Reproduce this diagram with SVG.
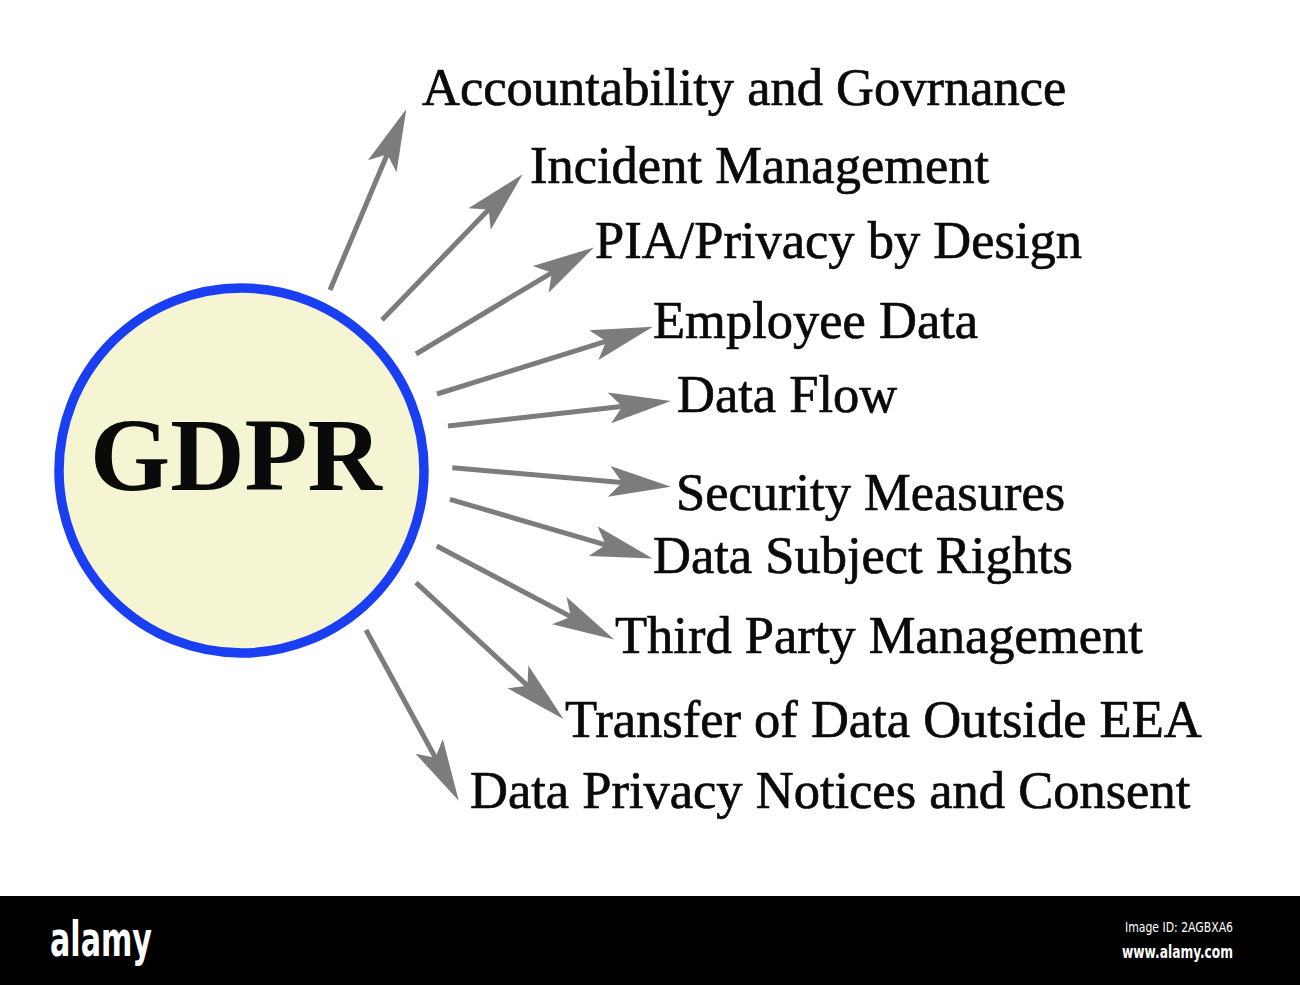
<svg xmlns="http://www.w3.org/2000/svg" width="1300" height="985" viewBox="0 0 1300 985">
  <style>
    .lbl { font-family: "Liberation Serif", "Times New Roman", serif; font-size: 52.5px; fill: #0a0a0a; stroke: #0a0a0a; stroke-width: 0.7px; }
    .arr { stroke: #7c7c7c; stroke-width: 5; fill: none; marker-end: url(#head); }
    .wm { font-family: "DejaVu Sans Condensed", "DejaVu Sans", sans-serif; fill: #ffffff; }
  </style>
  <defs>
    <marker id="head" markerUnits="userSpaceOnUse" orient="auto" viewBox="-30 -20 75 40" markerWidth="75" markerHeight="40" refX="0" refY="0" overflow="visible">
      <path d="M41,0 L-21,-15.5 L-8,0 L-21,15.5 Z" fill="#7c7c7c"/>
    </marker>
  </defs>
  <rect x="0" y="0" width="1300" height="985" fill="#ffffff"/>

  <g id="connectors">
    <line class="arr" x1="330" y1="290" x2="390.4" y2="146.8"/>
    <line class="arr" x1="382" y1="320" x2="494.2" y2="203.8"/>
    <line class="arr" x1="416" y1="354" x2="558.7" y2="268.6"/>
    <line class="arr" x1="437" y1="394" x2="613.8" y2="338.9"/>
    <line class="arr" x1="448" y1="426" x2="630.3" y2="405.5"/>
    <line class="arr" x1="452.3" y1="467.7" x2="630.1" y2="483.2"/>
    <line class="arr" x1="450" y1="499.3" x2="613.3" y2="547.1"/>
    <line class="arr" x1="436.7" y1="546" x2="577.9" y2="620.4"/>
    <line class="arr" x1="416" y1="582.7" x2="533.3" y2="691.1"/>
    <line class="arr" x1="366" y1="630" x2="439.2" y2="764.8"/>
  </g>

  <g id="gdpr">
    <circle cx="241.5" cy="470.5" r="182.5" fill="#f5f5d3" stroke="#1a3ef2" stroke-width="9.5"/>
    <text x="236" y="490" text-anchor="middle" font-family="Liberation Serif, 'Times New Roman', serif" font-weight="bold" font-size="103" fill="#0a0a0a">GDPR</text>
  </g>

  <g id="n1"><text class="lbl" x="422" y="105">Accountability and Govrnance</text></g>
  <g id="n2"><text class="lbl" x="530" y="183">Incident Management</text></g>
  <g id="n3"><text class="lbl" x="595" y="258">PIA/Privacy by Design</text></g>
  <g id="n4"><text class="lbl" x="653" y="338">Employee Data</text></g>
  <g id="n5"><text class="lbl" x="677" y="412">Data Flow</text></g>
  <g id="n6"><text class="lbl" x="676" y="510">Security Measures</text></g>
  <g id="n7"><text class="lbl" x="653" y="573">Data Subject Rights</text></g>
  <g id="n8"><text class="lbl" x="615" y="653">Third Party Management</text></g>
  <g id="n9"><text class="lbl" x="565" y="737">Transfer of Data Outside EEA</text></g>
  <g id="n10"><text class="lbl" x="470" y="808">Data Privacy Notices and Consent</text></g>

  <g id="watermark-bar">
    <rect x="0" y="896" width="1300" height="89" fill="#000000"/>
    <text class="wm" x="50" y="956" font-size="48" font-weight="bold" textLength="102" lengthAdjust="spacingAndGlyphs">alamy</text>
    <text class="wm" x="1125" y="932" font-size="14" textLength="108" lengthAdjust="spacingAndGlyphs">Image ID: 2AGBXA6</text>
    <text class="wm" x="1122" y="958" font-size="17" font-weight="bold" textLength="111" lengthAdjust="spacingAndGlyphs">www.alamy.com</text>
  </g>
</svg>
